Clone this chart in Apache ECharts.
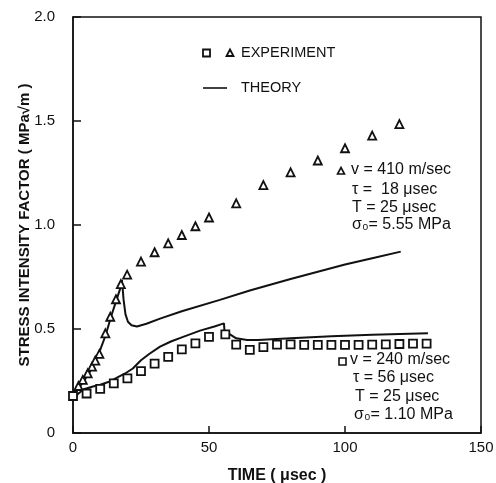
<!DOCTYPE html>
<html>
<head>
<meta charset="utf-8">
<script src="https://cdn.jsdelivr.net/npm/echarts@6/dist/echarts.min.js"></script>
<style>html,body{margin:0;padding:0;background:#fff;}#c{width:496px;height:483px;}</style>
</head>
<body>
<div id="c"></div>
<script>
// Experiment, v = 410 m/sec (triangles)
const triTime = [2, 3.6, 5.4, 7, 8.2, 9.7, 11.9, 13.7, 15.8, 17.6, 19.9, 25, 30, 35, 40, 45, 50, 60, 70, 80, 90, 100, 110, 120];
const triK    = [0.226, 0.255, 0.287, 0.319, 0.348, 0.38, 0.479, 0.559, 0.643, 0.716, 0.761, 0.824, 0.869, 0.912, 0.952, 0.994, 1.036, 1.104, 1.192, 1.253, 1.31, 1.369, 1.43, 1.485];
// Experiment, v = 240 m/sec (squares)
const sqTime = [0, 5, 10, 15, 20, 25, 30, 35, 40, 45, 50, 56, 60, 65, 70, 75, 80, 85, 90, 95, 100, 105, 110, 115, 120, 125, 130];
const sqK    = [0.178, 0.19, 0.212, 0.239, 0.263, 0.297, 0.334, 0.366, 0.402, 0.431, 0.462, 0.474, 0.425, 0.40, 0.413, 0.425, 0.426, 0.424, 0.424, 0.424, 0.424, 0.424, 0.425, 0.426, 0.428, 0.43, 0.43];
// Theory, v = 410 m/sec
const thHiTime = [0, 2, 4, 6, 8, 10, 12, 14, 16, 17.5, 18, 18.6, 19.3, 20.2, 21.5, 23.5, 27, 32, 40, 54, 65, 80, 90, 100, 110, 120.5];
const thHiK    = [0.19, 0.215, 0.25, 0.29, 0.34, 0.40, 0.47, 0.56, 0.64, 0.70, 0.735, 0.64, 0.57, 0.535, 0.518, 0.512, 0.525, 0.55, 0.585, 0.64, 0.685, 0.74, 0.775, 0.81, 0.84, 0.872];
// Theory, v = 240 m/sec
const thLoTime = [0, 2, 4, 7, 10, 13, 16, 19, 22, 25, 28, 32, 36, 40, 46.7, 52, 55.5, 55.7, 57, 60, 64, 68, 80, 95, 110, 130.5];
const thLoK    = [0.165, 0.19, 0.21, 0.222, 0.232, 0.245, 0.265, 0.285, 0.31, 0.35, 0.38, 0.415, 0.44, 0.46, 0.492, 0.512, 0.527, 0.49, 0.48, 0.455, 0.447, 0.447, 0.455, 0.465, 0.472, 0.48];
// Axis ticks
const xTicks = [0, 50, 100, 150];
const yTicks = [0, 0.5, 1.0, 1.5, 2.0];
const yTickLabels = ['0', '0.5', '1.0', '1.5', '2.0'];

const zip = (a, b) => a.map((v, i) => [v, b[i]]);
const FONT = 'Liberation Sans';

const chart = echarts.init(document.getElementById('c'), null, {renderer: 'canvas'});
const txt = (x, y, s, size) => ({
  type: 'text', left: x, top: y,
  style: {text: s, font: (size || 16) + 'px "' + FONT + '"', fill: '#111'}
});
chart.setOption({
  animation: false,
  backgroundColor: '#fff',
  grid: {left: 73, right: 15, top: 17, bottom: 50, outerBoundsMode: 'none', containLabel: false,
    show: true, borderColor: '#111', borderWidth: 1.5, backgroundColor: 'transparent'},
  xAxis: {
    type: 'value', min: xTicks[0], max: xTicks[xTicks.length - 1], interval: 50,
    name: 'TIME ( μsec )', nameLocation: 'middle', nameGap: 35, nameMoveOverlap: false,
    nameTextStyle: {fontFamily: FONT, fontSize: 16, fontWeight: 'bold', color: '#111'},
    axisLine: {show: true, lineStyle: {color: '#111', width: 1.5}},
    axisTick: {show: true, inside: true, length: 7, lineStyle: {color: '#111', width: 1.5}},
    axisLabel: {fontFamily: FONT, fontSize: 15, color: '#111', margin: 7},
    splitLine: {show: false}
  },
  yAxis: {
    type: 'value', min: yTicks[0], max: yTicks[yTicks.length - 1], interval: 0.5,
    name: 'STRESS INTENSITY FACTOR ( MPa√m )', nameLocation: 'middle', nameGap: 41, nameMoveOverlap: false,
    nameTextStyle: {fontFamily: FONT, fontSize: 15, fontWeight: 'bold', color: '#111'},
    axisLine: {show: true, lineStyle: {color: '#111', width: 1.5}},
    axisTick: {show: true, inside: true, length: 8, lineStyle: {color: '#111', width: 1.5}},
    axisLabel: {fontFamily: FONT, fontSize: 15, color: '#111', margin: 18,
      formatter: v => { const i = yTicks.indexOf(v); return i >= 0 ? yTickLabels[i] : ''; }},
    splitLine: {show: false}
  },
  series: [
    {type: 'line', data: zip(thHiTime, thHiK), showSymbol: false, lineStyle: {color: '#111', width: 2}, z: 2},
    {type: 'line', data: zip(thLoTime, thLoK), showSymbol: false, lineStyle: {color: '#111', width: 2}, z: 2},
    {type: 'scatter', data: zip(triTime, triK), symbol: 'triangle', symbolSize: 8,
      itemStyle: {color: '#fff', borderColor: '#111', borderWidth: 1.8, opacity: 1}, z: 3},
    {type: 'scatter', data: zip(sqTime, sqK), symbol: 'rect', symbolSize: 8,
      itemStyle: {color: '#fff', borderColor: '#111', borderWidth: 1.8, opacity: 1}, z: 3}
  ],
  graphic: [
    {type: 'rect', shape: {x: 203, y: 49.5, width: 7, height: 7}, style: {fill: '#fff', stroke: '#111', lineWidth: 1.8}},
    {type: 'polygon', shape: {points: [[230, 49.5], [233.5, 56], [226.5, 56]]}, style: {fill: '#fff', stroke: '#111', lineWidth: 1.8}},
    txt(241, 45, 'EXPERIMENT', 14.5),
    {type: 'line', shape: {x1: 203, y1: 88, x2: 227, y2: 88}, style: {stroke: '#111', lineWidth: 1.6}},
    txt(241, 80, 'THEORY', 14.5),
    {type: 'polygon', shape: {points: [[341, 167.5], [344.5, 174], [337.5, 174]]}, style: {fill: '#fff', stroke: '#111', lineWidth: 1.6}},
    txt(351, 162, 'v = 410 m/sec'),
    txt(352, 182, 'τ =  18 μsec'),
    txt(352, 200, 'T = 25 μsec'),
    txt(352, 217, 'σ₀= 5.55 MPa'),
    {type: 'rect', shape: {x: 339, y: 358, width: 7, height: 7}, style: {fill: '#fff', stroke: '#111', lineWidth: 1.6}},
    txt(350, 352, 'v = 240 m/sec'),
    txt(353, 370, 'τ = 56 μsec'),
    txt(355, 389, 'T = 25 μsec'),
    txt(354, 407, 'σ₀= 1.10 MPa')
  ]
});
</script>
</body>
</html>
